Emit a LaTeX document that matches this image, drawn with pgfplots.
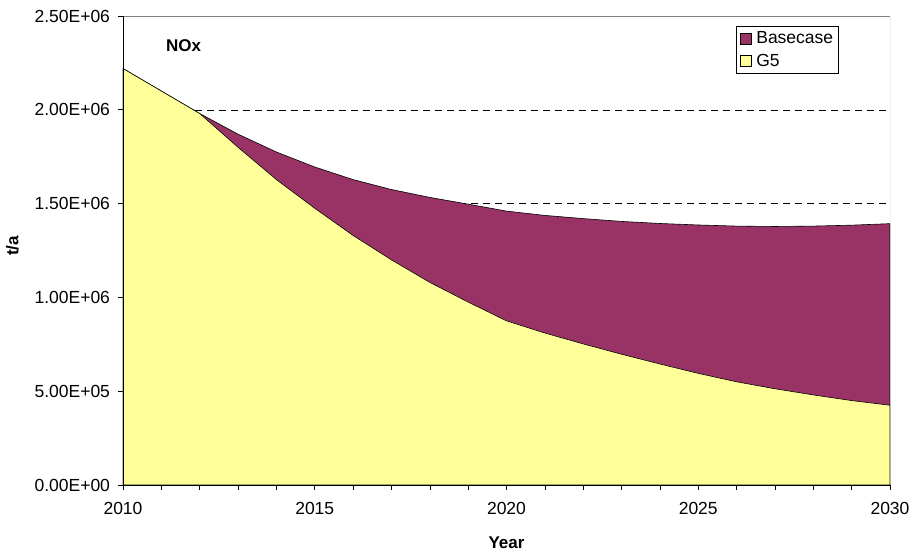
\documentclass[border=0pt]{standalone}
\usepackage{fontspec}
\setmainfont{Liberation Sans}
\usepackage{pgfplots}
\pgfplotsset{compat=1.18}
\usepackage{pgfplotstable}
\definecolor{plum}{HTML}{993366}
\definecolor{lyellow}{HTML}{FFFF99}
\pgfplotstableread{
year total g5
2010 2220000 2220000
2011 2100000 2100000
2012 1980000 1980000
2013 1870000 1800000
2014 1775000 1628000
2015 1695000 1475000
2016 1628000 1330000
2017 1575000 1200000
2018 1533000 1080000
2019 1497000 975000
2020 1460000 875000
2021 1437000 810000
2022 1420000 752000
2023 1405000 697000
2024 1394000 645000
2025 1386000 595000
2026 1380000 550000
2027 1378000 513000
2028 1380000 480000
2029 1385000 450000
2030 1393000 425000
}\datatable
\begin{document}
\begin{tikzpicture}
\useasboundingbox (-123pt,-68pt) rectangle (790pt,485pt);
\begin{axis}[
  at={(0,0)}, anchor=south west,
  scale only axis, width=767pt, height=469pt,
  xmin=2010, xmax=2030, ymin=0, ymax=2500000,
  axis x line*=bottom, axis y line*=left,
  axis line style={black, line width=0.6pt},
  tick align=outside, major tick length=5pt, minor tick length=5pt,
  tick style={black, line width=0.6pt},
  xtick={2010,2015,2020,2025,2030},
  xticklabels={2010,2015,2020,2025,2030},
  minor x tick num=4,
  ytick={0,500000,1000000,1500000,2000000,2500000},
  yticklabels={0.00E+00,5.00E+05,1.00E+06,1.50E+06,2.00E+06,2.50E+06},
  scaled y ticks=false,
  xticklabel style={font=\fontsize{17.5}{20}\selectfont, yshift=-9pt},
  yticklabel style={font=\fontsize{17.5}{20}\selectfont, xshift=-4.5pt},
  ymajorgrids, major grid style={black, dashed, dash pattern=on 7pt off 5pt, line width=0.5pt},
  xlabel={Year}, ylabel={t/a},
  xlabel style={font=\bfseries\fontsize{17}{19}\selectfont, at={(axis description cs:0.5,-0.1226)}, anchor=center},
  ylabel style={font=\bfseries\fontsize{17}{19}\selectfont, at={(axis description cs:-0.1441,0.51)}, anchor=center},
  legend style={at={(rel axis cs:0.9335,0.9793)}, anchor=north east, draw=black, line width=0.6pt,
    font=\fontsize{17.5}{20}\selectfont, row sep=6pt, inner xsep=4pt, inner ysep=4pt,
    nodes={inner sep=1.5pt},
    /tikz/every odd column/.append style={column sep=3pt},
    legend cell align=left},
  legend image code/.code={\draw[#1,draw=black,line width=0.5pt] (0pt,-5.5pt) rectangle (11pt,5.5pt);},
]
\addplot[fill=plum, draw=black, line width=0.6pt] table[x=year,y=total] {\datatable} \closedcycle;
\addlegendentry{Basecase}
\addplot[fill=lyellow, draw=black, line width=0.6pt] table[x=year,y=g5] {\datatable} \closedcycle;
\addlegendentry{G5}
\draw[gray, line width=0.6pt] (rel axis cs:0,1) -- (rel axis cs:1,1) -- (rel axis cs:1,0);
\draw[black, line width=0.6pt] (rel axis cs:0,0) -- (rel axis cs:0,1);
\draw[black, line width=0.6pt] (rel axis cs:0,0) -- (rel axis cs:1,0);
\node[font=\bfseries\fontsize{17}{19}\selectfont] at (axis cs:2011.58,2343000) {NOx};
\end{axis}
\end{tikzpicture}
\end{document}
